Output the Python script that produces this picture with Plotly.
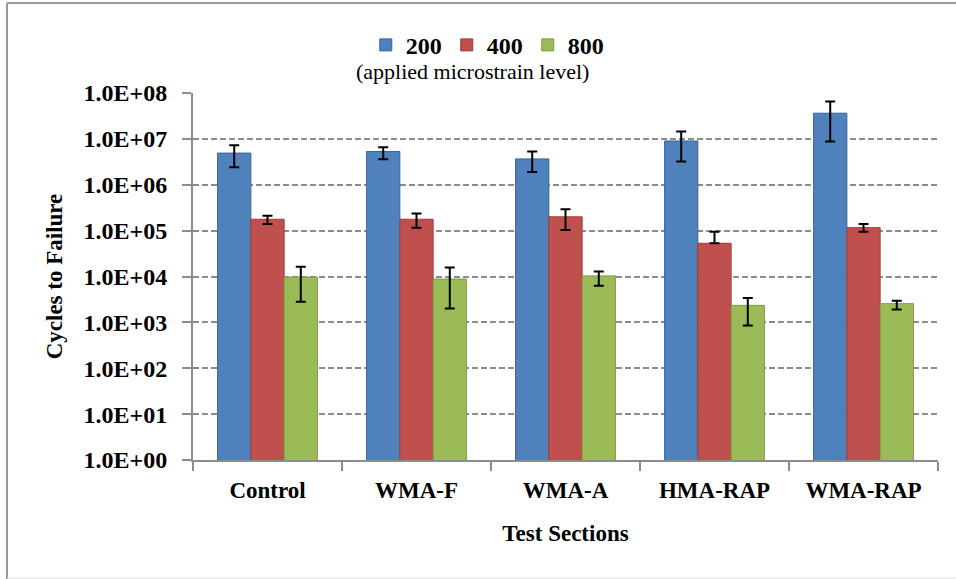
import plotly.graph_objects as go

# Test sections and applied microstrain levels
sections = ["Control", "WMA-F", "WMA-A", "HMA-RAP", "WMA-RAP"]
levels = ["200", "400", "800"]

# Mean cycles to failure per microstrain level
cycles_200 = [4.9e6, 5.3e6, 3.66e6, 9.0e6, 3.63e7]
cycles_400 = [1.77e5, 1.77e5, 2.0e5, 5.3e4, 1.16e5]
cycles_800 = [9.7e3, 8.8e3, 1.03e4, 2.35e3, 2.56e3]

# Error bar extents (upper / lower)
err_up_200 = [2.4e6, 1.3e6, 1.64e6, 5.4e6, 2.9e7]
err_dn_200 = [2.5e6, 1.7e6, 1.76e6, 5.8e6, 2.75e7]
err_up_400 = [3.5e4, 5.8e4, 9.3e4, 4.2e4, 2.4e4]
err_dn_400 = [3.7e4, 6.1e4, 9.7e4, 0.0, 2.2e4]
err_up_800 = [6.6e3, 6.9e3, 2.6e3, 1.07e3, 4.1e2]
err_dn_800 = [6.9e3, 6.8e3, 4.0e3, 1.5e3, 6.6e2]

# Logarithmic tick positions and labels
tick_vals = [1e0, 1e1, 1e2, 1e3, 1e4, 1e5, 1e6, 1e7, 1e8]
tick_text = ["1.0E+00", "1.0E+01", "1.0E+02", "1.0E+03", "1.0E+04",
             "1.0E+05", "1.0E+06", "1.0E+07", "1.0E+08"]

colors = ["#4F81BD", "#C0504D", "#9BBB59"]
edge_colors = ["#3A6499", "#9E3B38", "#7E9A45"]
serif = "Liberation Serif"

series = [
    (cycles_200, err_up_200, err_dn_200),
    (cycles_400, err_up_400, err_dn_400),
    (cycles_800, err_up_800, err_dn_800),
]

fig = go.Figure()
for name, (vals, up, dn), col, edge in zip(levels, series, colors, edge_colors):
    fig.add_trace(go.Bar(
        name=name,
        x=sections,
        y=vals,
        marker=dict(color=col, line=dict(color=edge, width=1)),
        error_y=dict(type="data", symmetric=False, array=up, arrayminus=dn,
                     color="black", thickness=2, width=5),
    ))

grid_col = "#8C8C8C"
x_font = dict(family=serif, size=23, color="black", weight="bold")
y_font = dict(family=serif, size=24, color="black", weight="bold")
fig.update_layout(
    width=956, height=579,
    margin=dict(l=193, r=18, t=93, b=119),
    paper_bgcolor="white", plot_bgcolor="white",
    barmode="group", bargap=0.33, bargroupgap=0.0,
    font=dict(family=serif, color="black"),
    legend=dict(
        orientation="h", x=0.395, xanchor="center", y=1.13, yanchor="middle",
        font=dict(family=serif, size=24, color="black", weight="bold"),
        bgcolor="rgba(0,0,0,0)", itemwidth=30,
    ),
    xaxis=dict(
        type="category",
        showline=True, linecolor=grid_col, linewidth=2,
        ticks="outside", tickson="boundaries", ticklen=9, tickcolor=grid_col, tickwidth=1.5,
        tickfont=x_font,
        ticklabelstandoff=8,
        title=dict(text="Test Sections", standoff=23, font=x_font),
        showgrid=False,
    ),
    yaxis=dict(
        type="log", range=[0, 8],
        tickvals=tick_vals, ticktext=tick_text,
        showline=True, linecolor=grid_col, linewidth=2,
        ticks="outside", ticklen=9, tickcolor=grid_col, tickwidth=1.5,
        tickfont=y_font,
        ticklabelstandoff=10,
        showgrid=True, gridcolor=grid_col, gridwidth=1.5, griddash="6px,3px",
        title=dict(text="Cycles to Failure", standoff=14, font=x_font),
    ),
)

# Legend caption below the level keys
fig.add_annotation(
    text="(applied microstrain level)", xref="paper", yref="paper",
    x=0.375, y=1.058, xanchor="center", yanchor="middle", showarrow=False,
    font=dict(family=serif, size=22, color="black"),
)

# Chart frame
frame = "#9A9A9A"
fig.add_shape(type="line", xref="paper", yref="paper", x0=-0.2497, x1=-0.2497,
              y0=-0.33, y1=1.2452, line=dict(color=frame, width=2))
fig.add_shape(type="line", xref="paper", yref="paper", x0=-0.2497, x1=1.03,
              y0=1.2452, y1=1.2452, line=dict(color=frame, width=2))
fig.add_shape(type="line", xref="paper", yref="paper", x0=-0.2497, x1=1.03,
              y0=-0.3215, y1=-0.3215, line=dict(color="#E3E3E3", width=1))

fig.write_html("out.html")
